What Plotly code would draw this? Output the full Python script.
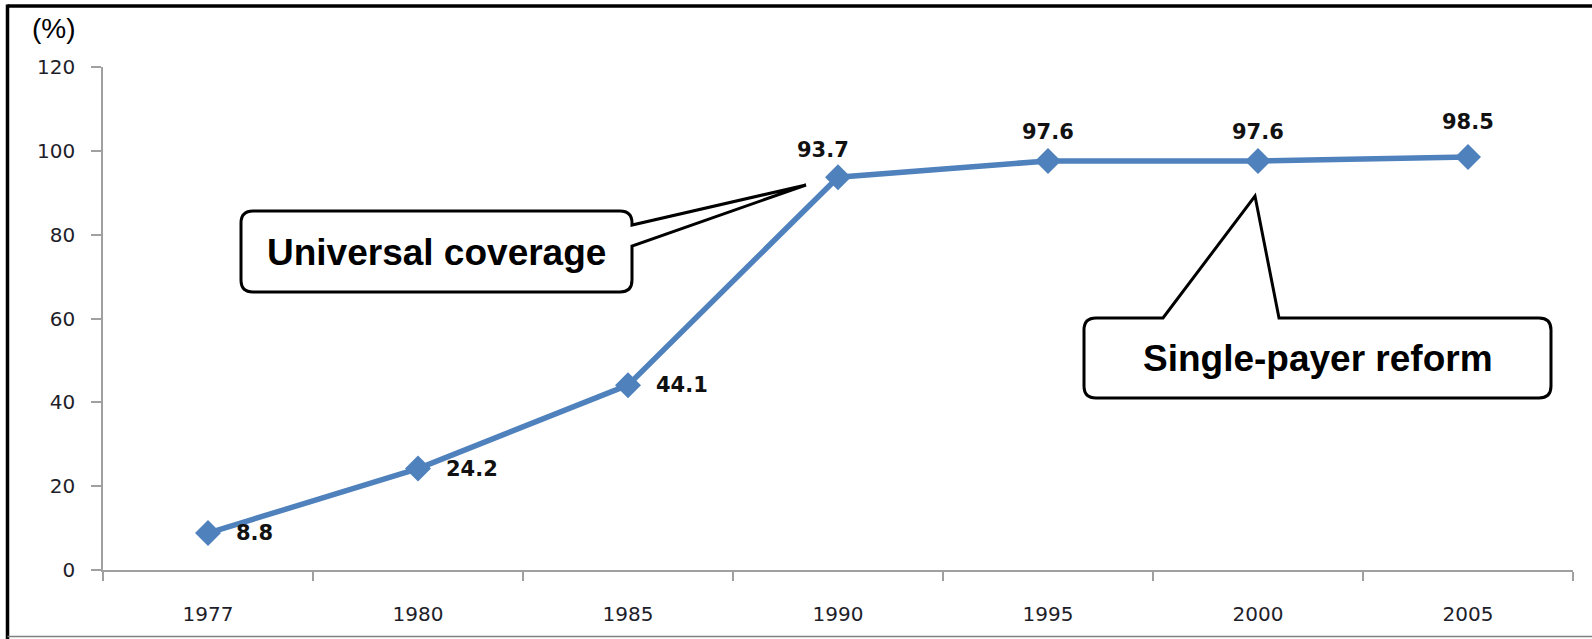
import plotly.graph_objects as go

# Coverage rate by year
years = ["1977", "1980", "1985", "1990", "1995", "2000", "2005"]
coverage = [8.8, 24.2, 44.1, 93.7, 97.6, 97.6, 98.5]
y_ticks = [0, 20, 40, 60, 80, 100, 120]

# Value label placement relative to each point (pixels)
label_anchor = ["left", "left", "left", "center", "center", "center", "center"]
label_dx = [26, 26, 26, -15, 0, 0, 0]
label_dy = [0, 0, 0, 27, 29, 29, 35]

W, H = 1592, 639
ML, MR, MT, MB = 103, 19, 67, 69
PW, PH = W - ML - MR, H - MT - MB

BLUE = "#4F81BD"
AXIS = "#A0A0A0"


def fx(p):
    return (p - ML) / PW


def fy(p):
    return (H - MB - p) / PH


def path(points):
    out = []
    for cmd, *pts in points:
        coords = " ".join(f"{fx(a):.5f},{fy(b):.5f}" for a, b in pts)
        out.append(f"{cmd} {coords}")
    return " ".join(out) + " Z"


fig = go.Figure()
fig.add_trace(go.Scatter(
    x=years, y=coverage, mode="lines+markers",
    line=dict(color=BLUE, width=5.5),
    marker=dict(symbol="diamond", size=20, color=BLUE),
    hoverinfo="skip", showlegend=False,
))

annotations = []
# category axes place annotations by category index
for i, (v, anc, dx, dy) in enumerate(zip(coverage, label_anchor, label_dx, label_dy)):
    annotations.append(dict(
        x=i, y=v, xref="x", yref="y", text=f"<b>{v}</b>", showarrow=False,
        xanchor=anc, yanchor="middle", xshift=dx, yshift=dy,
        font=dict(family="DejaVu Sans", size=21, color="#111111"),
    ))

annotations.append(dict(
    x=fx(54), y=fy(29), xref="paper", yref="paper", text="(%)", showarrow=False,
    xanchor="center", yanchor="middle",
    font=dict(family="Liberation Sans, Arial", size=28, color="#000000"),
))

callout_font = dict(family="Liberation Sans, Arial", size=37, color="#000000")
annotations.append(dict(
    x=fx(436), y=fy(252), xref="paper", yref="paper", text="<b>Universal coverage</b>",
    showarrow=False, xanchor="center", yanchor="middle", font=callout_font,
))
annotations.append(dict(
    x=fx(1318), y=fy(358), xref="paper", yref="paper", text="<b>Single-payer reform</b>",
    showarrow=False, xanchor="center", yanchor="middle", font=callout_font,
))

r = 12
x0, y0, x1, y1 = 241, 211, 632, 292
callout1 = path([
    ("M", (x0 + r, y0)), ("L", (x1 - r, y0)), ("Q", (x1, y0), (x1, y0 + r)),
    ("L", (x1, 225)), ("L", (806, 185)), ("L", (x1, 246)),
    ("L", (x1, y1 - r)), ("Q", (x1, y1), (x1 - r, y1)),
    ("L", (x0 + r, y1)), ("Q", (x0, y1), (x0, y1 - r)),
    ("L", (x0, y0 + r)), ("Q", (x0, y0), (x0 + r, y0)),
])
x0, y0, x1, y1 = 1084, 318, 1551, 398
callout2 = path([
    ("M", (x0 + r, y0)), ("L", (1163, y0)), ("L", (1255, 196)), ("L", (1279, y0)),
    ("L", (x1 - r, y0)), ("Q", (x1, y0), (x1, y0 + r)),
    ("L", (x1, y1 - r)), ("Q", (x1, y1), (x1 - r, y1)),
    ("L", (x0 + r, y1)), ("Q", (x0, y1), (x0, y1 - r)),
    ("L", (x0, y0 + r)), ("Q", (x0, y0), (x0 + r, y0)),
])

shapes = [
    dict(type="path", path=callout1, xref="paper", yref="paper",
         fillcolor="white", line=dict(color="black", width=3)),
    dict(type="path", path=callout2, xref="paper", yref="paper",
         fillcolor="white", line=dict(color="black", width=3)),
    # frame: heavy top and left edges, light bottom edge
    dict(type="line", xref="paper", yref="paper", x0=fx(7.5), x1=fx(W), y0=fy(6), y1=fy(6),
         line=dict(color="black", width=3.5)),
    dict(type="line", xref="paper", yref="paper", x0=fx(7.5), x1=fx(7.5), y0=fy(4.5), y1=fy(H),
         line=dict(color="black", width=3.5)),
    dict(type="line", xref="paper", yref="paper", x0=fx(7.5), x1=fx(W), y0=fy(636.5), y1=fy(636.5),
         line=dict(color="#808080", width=1.5)),
]

fig.update_layout(
    width=W, height=H,
    margin=dict(l=ML, r=MR, t=MT, b=MB),
    paper_bgcolor="white", plot_bgcolor="white",
    annotations=annotations, shapes=shapes,
    xaxis=dict(
        type="category", range=[-0.5, 6.5], tickson="boundaries",
        ticks="outside", ticklen=9, tickcolor=AXIS, tickwidth=1.5,
        showline=True, linecolor=AXIS, linewidth=1.5, showgrid=False,
        tickfont=dict(family="DejaVu Sans", size=20, color="#1E1E2A"),
        ticklabelstandoff=25,
    ),
    yaxis=dict(
        range=[0, 120], tickvals=y_ticks,
        ticks="outside", ticklen=10, tickcolor=AXIS, tickwidth=1.5,
        showline=True, linecolor=AXIS, linewidth=1.5, showgrid=False, zeroline=False,
        tickfont=dict(family="DejaVu Sans", size=20, color="#1E1E2A"),
        ticklabelstandoff=12,
    ),
)

fig.write_html("out.html")
